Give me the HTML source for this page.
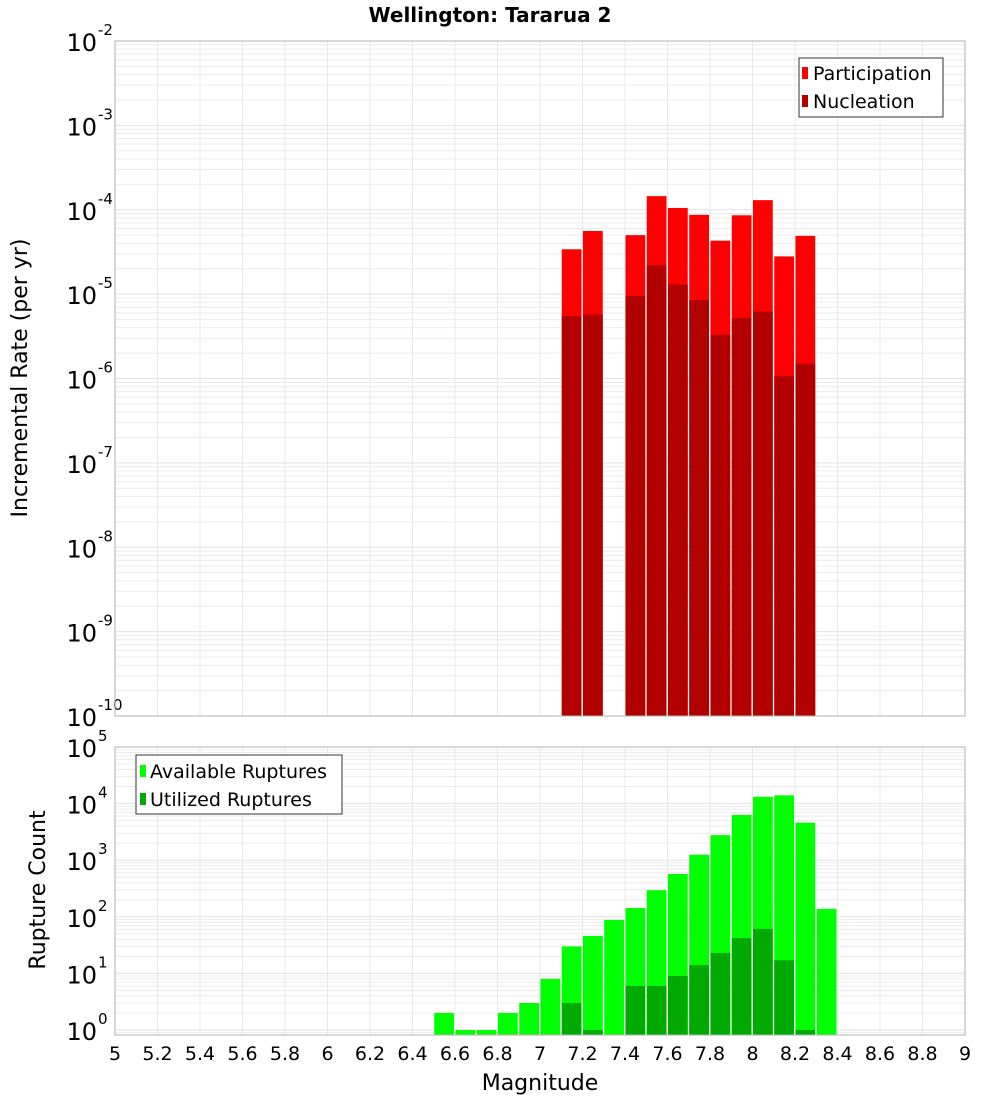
<!DOCTYPE html>
<html><head><meta charset="utf-8"><style>
body{margin:0;background:#fff;}
svg{display:block;font-family:"DejaVu Sans","Liberation Sans",sans-serif;}
</style></head><body>
<svg id="chart" width="1000" height="1100" viewBox="0 0 1000 1100">
<text x="490" y="22" text-anchor="middle" font-size="20" font-weight="bold">Wellington: Tararua 2</text>
<g id="top"></g>
<g id="bot"></g>
<text transform="translate(27,378) rotate(-90)" text-anchor="middle" font-size="22">Incremental Rate (per yr)</text>
<text transform="translate(45,890) rotate(-90)" text-anchor="middle" font-size="22">Rupture Count</text>
<text x="540" y="1090" text-anchor="middle" font-size="22">Magnitude</text>
<g>
<rect x="799" y="58" width="144" height="59" fill="#fff" stroke="#333"/>
<rect x="802" y="67" width="6" height="12" fill="#ff0000"/>
<text x="813" y="80" font-size="19">Participation</text>
<rect x="802" y="95" width="6" height="12" fill="#b20000"/>
<text x="813" y="108" font-size="19">Nucleation</text>
</g>
<g>
<rect x="136" y="755" width="206" height="59" fill="#fff" stroke="#333"/>
<rect x="140" y="765" width="6" height="12" fill="#00ff00"/>
<text x="150" y="778" font-size="19">Available Ruptures</text>
<rect x="140" y="793" width="6" height="12" fill="#00aa00"/>
<text x="150" y="806" font-size="19">Utilized Ruptures</text>
</g>
</svg>
<script>
const topMags=[7.1,7.2,7.4,7.5,7.6,7.7,7.8,7.9,8.0,8.1,8.2];
const participation=[3.4e-5,5.6e-5,5.0e-5,1.45e-4,1.05e-4,8.7e-5,4.3e-5,8.6e-5,1.3e-4,2.8e-5,4.9e-5];
const nucleation=[5.5e-6,5.7e-6,9.5e-6,2.2e-5,1.3e-5,8.5e-6,3.3e-6,5.2e-6,6.2e-6,1.07e-6,1.5e-6];
const availMags=[6.5,6.6,6.7,6.8,6.9,7.0,7.1,7.2,7.3,7.4,7.5,7.6,7.7,7.8,7.9,8.0,8.1,8.2,8.3];
const available=[2,1,1,2,3,8,30,46,88,143,295,570,1250,2770,6300,13200,14000,4600,138];
const utilMags=[7.1,7.2,7.4,7.5,7.6,7.7,7.8,7.9,8.0,8.1,8.2];
const utilized=[3,1,6,6,9,14,23,42,61,17,1];
const xTicks=["5","5.2","5.4","5.6","5.8","6","6.2","6.4","6.6","6.8","7","7.2","7.4","7.6","7.8","8","8.2","8.4","8.6","8.8","9"];
const topExps=[-2,-3,-4,-5,-6,-7,-8,-9,-10];
const botExps=[5,4,3,2,1,0];

const NS="http://www.w3.org/2000/svg";
const L=115,R=965;
const x=m=>L+(m-5)/4*(R-L);
const yTop=v=>41+(-2-Math.log10(v))*84.375;
const yBot=v=>1030-Math.log10(v)*56.6;
function mk(p,t,a){const e=document.createElementNS(NS,t);for(const k in a)e.setAttribute(k,a[k]);p.appendChild(e);return e;}

function frame(g,top,bot,yf,lo,hi,exps,name){
  for(let d=lo;d<hi;d++)for(let k=1;k<10;k++){const yy=yf(k*Math.pow(10,d));if(yy<top||yy>bot)continue;
    const ln=mk(g,'line',{x1:L,x2:R,y1:yy,y2:yy,stroke:k==1?'#e2e2e2':'#ececec','stroke-width':1});
    
    }
  xTicks.forEach(t=>{const xx=x(+t);
    const ln=mk(g,'line',{x1:xx,x2:xx,y1:top,y2:bot,stroke:'#e8e8e8'});
    
    });
  exps.forEach(e=>{const yy=yf(Math.pow(10,e));
    const t=mk(g,'text',{x:97,y:yy+10,'text-anchor':'end','font-size':24});t.textContent='10';
    
    
    const s=mk(g,'text',{x:98,y:yy-6,'font-size':15});s.textContent=String(e).replace('-','-');
    
    });
}
const gt=document.getElementById('top'),gb=document.getElementById('bot');
frame(gt,41,716,yTop,-10,-2,topExps,'top');
frame(gb,747,1035,yBot,-1,5,botExps,'bottom');
function bars(g,mags,vals,yf,base,col,name){
  mags.forEach((m,i)=>{const y0=yf(vals[i]);
    const r=mk(g,'rect',{x:x(m)+0.5,y:y0,width:x(m+0.1)-x(m)-1.5,height:base-y0,fill:col});
    
    });
}
bars(gt,topMags,participation,yTop,716,'#ff0000','participation-bar');
bars(gt,topMags,nucleation,yTop,716,'#b20000','nucleation-bar');
bars(gb,availMags,available,yBot,1035,'#00ff00','available-bar');
bars(gb,utilMags,utilized,yBot,1035,'#00aa00','utilized-bar');
mk(gt,'rect',{x:L,y:41,width:R-L,height:675,fill:'none',stroke:'#b0b0b0'});
mk(gb,'rect',{x:L,y:747,width:R-L,height:288,fill:'none',stroke:'#b0b0b0'});
xTicks.forEach(t=>{const tx=mk(gb,'text',{x:x(+t),y:1060,'text-anchor':'middle','font-size':19});tx.textContent=t;
  
  });
</script>
</body></html>
